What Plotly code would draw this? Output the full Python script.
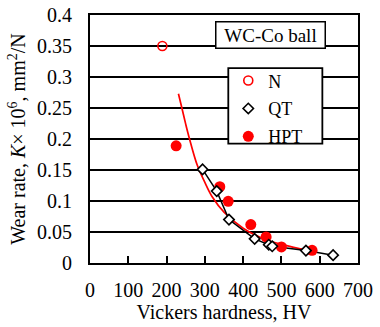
import plotly.graph_objects as go

# Data
n_hv = [189]
n_k = [0.350]

qt_hv = [294, 331, 363, 430, 467, 476, 564, 635]
qt_k = [0.151, 0.116, 0.070, 0.039, 0.0295, 0.027, 0.020, 0.0126]

hpt_hv = [225, 339, 361, 420, 460, 500, 580]
hpt_k = [0.189, 0.123, 0.0995, 0.062, 0.042, 0.026, 0.0205]

fit_hv = [231, 240, 250, 260, 280, 300, 320, 350, 400, 450, 500, 550, 585]
fit_k = [0.273, 0.250, 0.224, 0.200, 0.158, 0.130, 0.106, 0.082, 0.056, 0.040, 0.030, 0.023, 0.019]

FONT = "Liberation Serif, Times New Roman, serif"

fig = go.Figure()
fig.add_trace(go.Scatter(x=fit_hv, y=fit_k, mode="lines", line=dict(color="red", width=1.7, shape="spline"),
                         showlegend=False, hoverinfo="skip"))
fig.add_trace(go.Scatter(x=qt_hv, y=qt_k, mode="lines", line=dict(color="black", width=1.5),
                         showlegend=False, hoverinfo="skip"))
fig.add_trace(go.Scatter(x=hpt_hv, y=hpt_k, mode="markers", name="HPT", legendrank=3, legendgroup="c",
                         marker=dict(symbol="circle", size=11, color="red")))
fig.add_trace(go.Scatter(x=qt_hv, y=qt_k, mode="markers", name="QT", legendrank=2, legendgroup="b",
                         marker=dict(symbol="diamond", size=8, color="white",
                                     line=dict(color="black", width=1.6))))
fig.add_trace(go.Scatter(x=n_hv, y=n_k, mode="markers", name="N", legendrank=1, legendgroup="a",
                         marker=dict(symbol="circle-open", size=9, color="red",
                                     line=dict(color="red", width=1.6))))

fig.add_annotation(x=472, y=0.368, xref="x", yref="y", text="WC-Co ball", showarrow=False,
                   font=dict(family=FONT, size=19, color="black"),
                   bgcolor="white", bordercolor="black", borderwidth=1.5,
                   width=104, height=21, borderpad=2)

# legend frame
fig.add_shape(type="rect", xref="paper", yref="paper", x0=0.516, x1=0.867, y0=0.481, y1=0.7855,
              line=dict(color="black", width=1.8), fillcolor="white", layer="above")

fig.update_layout(
    width=380, height=327,
    margin=dict(l=90, r=22, t=15, b=63.5),
    paper_bgcolor="white", plot_bgcolor="white",
    font=dict(family=FONT, size=20, color="black"),
    legend=dict(x=0.516, y=0.809, xanchor="left", yanchor="top",
                bgcolor="rgba(0,0,0,0)", borderwidth=0,
                font=dict(family=FONT, size=18, color="black"),
                traceorder="grouped", tracegroupgap=1.5),
    xaxis=dict(range=[0, 700], dtick=100, tick0=0, showgrid=False, zeroline=False,
               showline=True, linecolor="black", linewidth=2, mirror=True,
               ticks="inside", ticklen=7, tickwidth=1.5, tickcolor="black",
               ticklabelstandoff=8, automargin=False,
               title=dict(text="Vickers hardness, HV", standoff=4,
                          font=dict(family=FONT, size=20))),
    yaxis=dict(range=[0, 0.4], dtick=0.05, tick0=0, showgrid=True, gridcolor="black", gridwidth=1.5,
               zeroline=False, showline=True, linecolor="black", linewidth=2, mirror=True,
               ticks="", ticklabelstandoff=12, automargin=False,
               title=dict(text="Wear rate, <i>K</i>× 10<sup>6</sup>, mm<sup>2</sup>/N", standoff=6,
                          font=dict(family=FONT, size=20))),
)

fig.write_html("out.html")
